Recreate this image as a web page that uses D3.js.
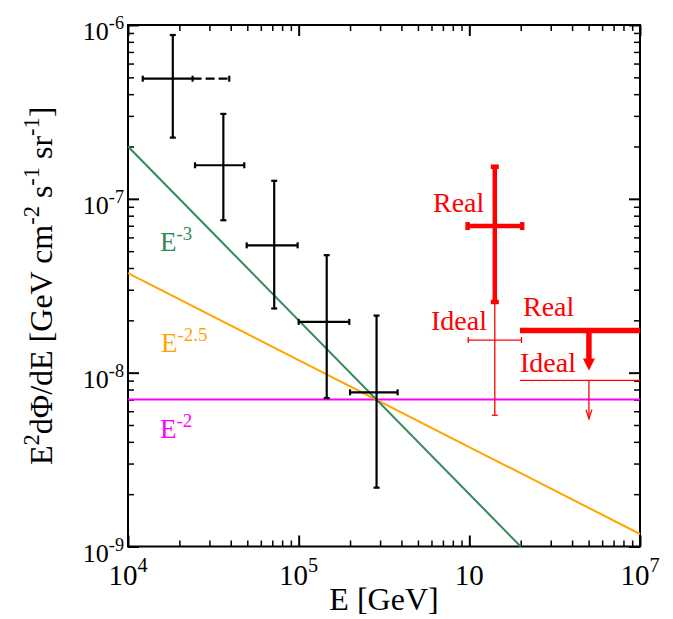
<!DOCTYPE html>
<html>
<head>
<meta charset="utf-8">
<script src="https://cdn.jsdelivr.net/npm/d3@7"></script>
</head>
<body style="margin:0">
<svg id="canvas" width="673" height="619"></svg>
<script>
// measured points: E [GeV] and E^2 dPhi/dE [GeV cm^-2 s^-1 sr^-1]
const pointE    = [1.83e4, 3.62e4, 7.19e4, 1.46e5, 2.86e5]
const pointElo  = [1.22e4, 2.47e4, 4.96e4, 1.00e5, 2.00e5]
const pointEhi  = [2.39e4, 4.80e4, 9.86e4, 1.98e5, 3.80e5]
const pointF    = [4.91e-7, 1.56e-7, 5.40e-8, 1.96e-8, 7.71e-9]
const pointFlo  = [2.25e-7, 7.53e-8, 2.34e-8, 7.14e-9, 2.18e-9]
const pointFhi  = [8.76e-7, 3.08e-7, 1.27e-7, 4.74e-8, 2.13e-8]
// first bin continues as a dashed bar up to this energy
const firstBinDashedEnd = 3.92e4

// reference power laws, as end points [E, flux]
const lineE2  = [[1e4, 7.0e-9], [1e7, 7.0e-9]]
const lineE25 = [[1e4, 3.74e-8], [1e7, 1.18e-9]]
const lineE3  = [[1e4, 2.0e-7], [2.0e6, 1.0e-9]]

// red predictions: [E, Elo, Ehi, F, Flo, Fhi]
const realPoint  = [1.41e6, 9.77e5, 2.04e6, 6.97e-8, 2.55e-8, 1.53e-7]
const idealPoint = [1.41e6, 9.85e5, 2.02e6, 1.54e-8, 5.69e-9, 2.55e-8]
// upper limits: [Elo, Ehi, F, arrowE, arrowTipF]
const realLimit  = [1.98e6, 1e7, 1.75e-8, 5.02e6, 1.03e-8]
const idealLimit = [1.98e6, 1e7, 9.04e-9, 5.02e6, 5.44e-9]

const xMajor = [1e4, 1e5, 1e6, 1e7]
const xTickLabels = [['10', '4'], ['10', '5'], ['10', ''], ['10', '7']]
const yMajor = [1e-6, 1e-7, 1e-8, 1e-9]
const yTickLabels = [['10', '-6'], ['10', '-7'], ['10', '-8'], ['10', '-9']]

const FONT = "'Liberation Serif'"
const NB = '\u00a0'

const svg = d3.select('#canvas')
const pLeft = 128, pRight = 640, pTop = 25, pBottom = 546.5

const x = d3.scaleLog().domain([1e4, 1e7]).range([pLeft, pRight])
const y = d3.scaleLog().domain([1e-9, 1e-6]).range([pBottom, pTop])

function minors(lo, hi) {
    const out = []
    for (let d = lo; d < hi * 0.99; d *= 10)
        for (let k = 2; k <= 9; k++) out.push(d * k)
    return out
}

function addText(px, py) {
    return svg.append('text').attr('x', px).attr('y', py)
        .style('font-family', FONT)
}

// write text with superscript parts: parts = [[str, isSup], ...]
function rich(sel, parts, size) {
    let shift = 0
    parts.forEach(([t, sup]) => {
        const target = sup ? -size * 0.42 : 0
        sel.append('tspan')
            .attr('dy', target - shift)
            .attr('font-size', sup ? size * 0.7 : size)
            .text(t)
        shift = target
    })
    return sel
}

// ---- axes (ticks inside on all four sides) ----
const xMinor = minors(1e4, 1e7)
const yMinor = minors(1e-9, 1e-6)

const axes = [
    [() => d3.axisBottom(x), `translate(0,${pBottom})`, xMinor, xMajor],
    [() => d3.axisTop(x), `translate(0,${pTop})`, xMinor, xMajor],
    [() => d3.axisLeft(y), `translate(${pLeft},0)`, yMinor, yMajor],
    [() => d3.axisRight(y), `translate(${pRight},0)`, yMinor, yMajor]
]
axes.forEach(([mk, tr, mn, mj]) => {
    svg.append('g').attr('transform', tr)
        .call(mk().tickValues(mn).tickSize(-6).tickFormat(''))
        .call(g => g.select('.domain').remove())
        .call(g => g.selectAll('text').remove())
        .call(g => g.selectAll('line').attr('stroke', '#000').attr('stroke-width', 1.5))
    svg.append('g').attr('transform', tr)
        .call(mk().tickValues(mj).tickSize(-11).tickFormat(''))
        .call(g => g.select('.domain').remove())
        .call(g => g.selectAll('text').remove())
        .call(g => g.selectAll('line').attr('stroke', '#000').attr('stroke-width', 2))
})

// frame
svg.append('rect')
    .attr('x', pLeft).attr('y', pTop)
    .attr('width', pRight - pLeft).attr('height', pBottom - pTop)
    .attr('fill', 'none').attr('stroke', '#000').attr('stroke-width', 2)

// tick labels
xMajor.forEach((v, i) => {
    const t = addText(x(v), pBottom + 38).attr('text-anchor', 'middle')
    rich(t, [[xTickLabels[i][0], false], [xTickLabels[i][1], true]], 29)
})
yMajor.forEach((v, i) => {
    const t = addText(pLeft - 4, y(v) + 15).attr('text-anchor', 'end')
    rich(t, [[yTickLabels[i][0], false], [yTickLabels[i][1], true]], 26)
})

// axis titles
addText((pLeft + pRight) / 2, 610)
    .attr('text-anchor', 'middle')
    .attr('font-size', 32)
    .text('E [GeV]')

const yTitle = addText(0, 0)
    .attr('transform', `translate(52,${(pTop + pBottom) / 2}) rotate(-90)`)
    .attr('text-anchor', 'middle')
rich(yTitle, [['E', false], ['2', true], ['dΦ/dE [GeV cm', false], ['-2', true],
    [NB + 's', false], ['-1', true], [NB + 'sr', false], ['-1', true], [']', false]], 32)

// ---- reference lines ----
const plot = svg.append('g')
const line = d3.line().x(d => x(d[0])).y(d => y(d[1]))
;[[lineE2, '#ff00ff'], [lineE25, '#ffa500'], [lineE3, '#2e8b57']].forEach(([pts, c]) => {
    plot.append('path').attr('d', line(pts))
        .attr('fill', 'none').attr('stroke', c).attr('stroke-width', 2)
})

const lineLabels = [
    [160, 251, '-3', '#2e8b57'],
    [161, 352, '-2.5', '#ffa500'],
    [160, 438, '-2', '#ff00ff']
]
lineLabels.forEach(([lx, ly, sup, c]) => {
    const t = addText(lx, ly).attr('fill', c)
    rich(t, [['E', false], [sup, true]], 27)
})

// ---- black data points ----
function errBar(g, e, elo, ehi, f, flo, fhi, color, width, cap) {
    const seg = (x1, y1, x2, y2) => g.append('line')
        .attr('x1', x1).attr('y1', y1).attr('x2', x2).attr('y2', y2)
        .attr('stroke', color).attr('stroke-width', width)
    seg(x(elo), y(f), x(ehi), y(f))
    seg(x(e), y(flo), x(e), y(fhi))
    seg(x(elo), y(f) - cap, x(elo), y(f) + cap)
    seg(x(ehi), y(f) - cap, x(ehi), y(f) + cap)
    seg(x(e) - cap, y(flo), x(e) + cap, y(flo))
    seg(x(e) - cap, y(fhi), x(e) + cap, y(fhi))
    return seg
}

const pts = plot.append('g')
pointE.forEach((e, i) => {
    errBar(pts, e, pointElo[i], pointEhi[i], pointF[i], pointFlo[i], pointFhi[i], '#000', 2.2, 3)
})
// dashed extension of the first bin
pts.append('line')
    .attr('x1', x(pointEhi[0])).attr('x2', x(firstBinDashedEnd))
    .attr('y1', y(pointF[0])).attr('y2', y(pointF[0]))
    .attr('stroke', '#000').attr('stroke-width', 2.2).attr('stroke-dasharray', '9,4')
pts.append('line')
    .attr('x1', x(firstBinDashedEnd)).attr('x2', x(firstBinDashedEnd))
    .attr('y1', y(pointF[0]) - 3).attr('y2', y(pointF[0]) + 3)
    .attr('stroke', '#000').attr('stroke-width', 2.2)

// ---- red predictions ----
const red = '#ff0000'
const rg = plot.append('g')

// ideal (thin) first, real (thick) on top
errBar(rg, ...idealPoint, red, 1.3, 3)

function upperLimit(g, lim, width, head, filled) {
    const [elo, ehi, f, ae, tip] = lim
    g.append('line')
        .attr('x1', x(elo)).attr('x2', x(ehi)).attr('y1', y(f)).attr('y2', y(f))
        .attr('stroke', red).attr('stroke-width', width)
    const ax = x(ae), ty = y(tip)
    g.append('line')
        .attr('x1', ax).attr('x2', ax).attr('y1', y(f)).attr('y2', ty - (filled ? head[1] * 0.5 : 0))
        .attr('stroke', red).attr('stroke-width', width)
    const p = `${ax - head[0]},${ty - head[1]} ${ax},${ty} ${ax + head[0]},${ty - head[1]}`
    if (filled) {
        g.append('polygon').attr('points', p).attr('fill', red)
    } else {
        g.append('polyline').attr('points', p)
            .attr('fill', 'none').attr('stroke', red).attr('stroke-width', width)
    }
}
upperLimit(rg, idealLimit, 1.3, [3, 9], false)
upperLimit(rg, realLimit, 5.5, [6, 12], true)

errBar(rg, ...realPoint, red, 4.5, 4)

const redLabels = [
    [433, 212, 'Real'],
    [431, 330, 'Ideal'],
    [523, 316, 'Real'],
    [520, 372, 'Ideal']
]
redLabels.forEach(([lx, ly, s]) => {
    addText(lx, ly).attr('fill', red).attr('font-size', 28).text(s)
})
</script>
</body>
</html>
